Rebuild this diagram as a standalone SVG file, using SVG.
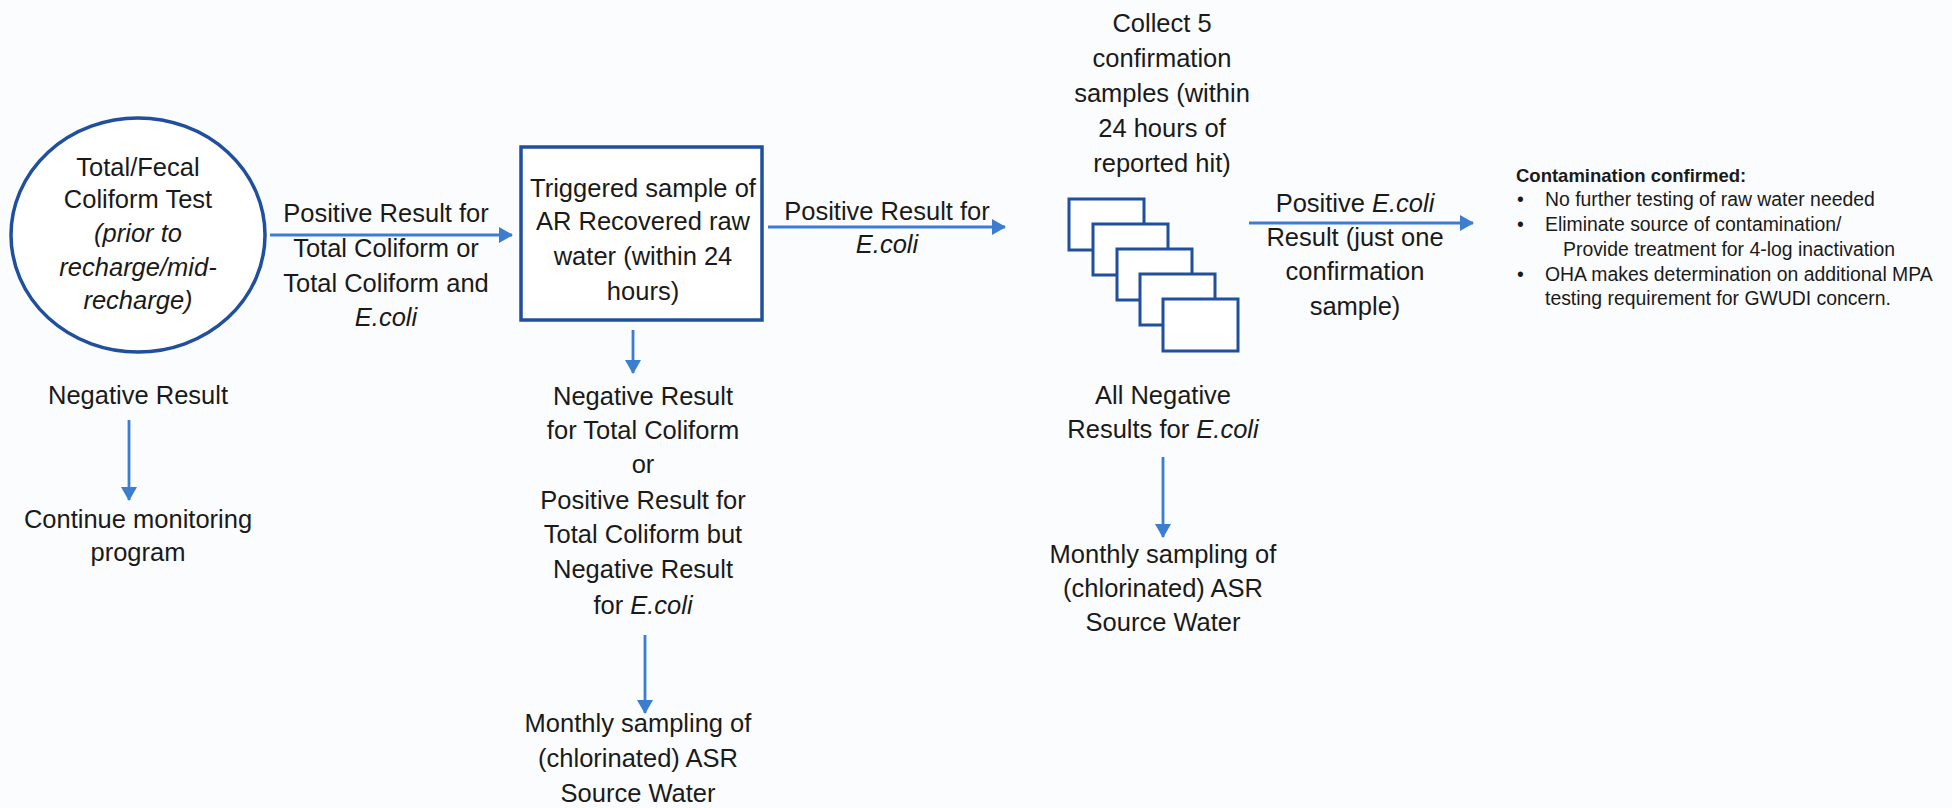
<svg xmlns="http://www.w3.org/2000/svg" width="1952" height="808" viewBox="0 0 1952 808">
<style>
.t{font-family:"Liberation Sans",Arial,sans-serif;font-size:25.5px;fill:#1a1a1a;text-anchor:middle}
.i{font-style:italic}
.s{font-family:"Liberation Sans",Arial,sans-serif;font-size:19.4px;fill:#1a1a1a}
.h{font-weight:bold;font-size:18.5px}
.shape{fill:#fff;stroke:#1f4f9e;stroke-width:3.5}
.stk{fill:#fff;stroke:#1f4f9e;stroke-width:3}
.arr{stroke:#3b7dd0;stroke-width:2.8;fill:none;marker-end:url(#ah)}
</style>
<defs>
<marker id="ah" markerUnits="userSpaceOnUse" markerWidth="14" markerHeight="16" refX="13" refY="8" orient="auto">
<path d="M0,0 L14,8 L0,16 z" fill="#3b7dd0"/>
</marker>
</defs>
<rect width="1952" height="808" fill="#fbfcfd"/>
<g id="connectors">
<line class="arr" x1="270" y1="235" x2="512" y2="235"/>
<line class="arr" x1="768" y1="227" x2="1005" y2="227"/>
<line class="arr" x1="1249" y1="223" x2="1473" y2="223"/>
<line class="arr" x1="129" y1="420" x2="129" y2="500"/>
<line class="arr" x1="633" y1="330" x2="633" y2="373"/>
<line class="arr" x1="645" y1="635" x2="645" y2="713"/>
<line class="arr" x1="1163" y1="457" x2="1163" y2="537"/>
</g>
<g id="start">
<ellipse class="shape" cx="138" cy="235" rx="127" ry="117"/>
<text class="t" x="138" y="176">Total/Fecal</text>
<text class="t" x="138" y="208">Coliform Test</text>
<text class="t i" x="138" y="242">(prior to</text>
<text class="t i" x="138" y="276">recharge/mid-</text>
<text class="t i" x="138" y="309">recharge)</text>
</g>
<g id="label1">
<text class="t" x="386" y="222">Positive Result for</text>
<text class="t" x="386" y="257">Total Coliform or</text>
<text class="t" x="386" y="292">Total Coliform and</text>
<text class="t i" x="386" y="326">E.coli</text>
</g>
<g id="neg1">
<text class="t" x="138" y="404">Negative Result</text>
</g>
<g id="continue">
<text class="t" x="138" y="528">Continue monitoring</text>
<text class="t" x="138" y="561">program</text>
</g>
<g id="triggered">
<rect class="shape" x="521" y="147" width="241" height="173"/>
<text class="t" x="643" y="197">Triggered sample of</text>
<text class="t" x="643" y="230">AR Recovered raw</text>
<text class="t" x="643" y="265">water (within 24</text>
<text class="t" x="643" y="300">hours)</text>
</g>
<g id="label2">
<text class="t" x="887" y="220">Positive Result for</text>
<text class="t i" x="887" y="253">E.coli</text>
</g>
<g id="neg2">
<text class="t" x="643" y="405">Negative Result</text>
<text class="t" x="643" y="439">for Total Coliform</text>
<text class="t" x="643" y="473">or</text>
<text class="t" x="643" y="509">Positive Result for</text>
<text class="t" x="643" y="543">Total Coliform but</text>
<text class="t" x="643" y="578">Negative Result</text>
<text class="t" x="643" y="614">for <tspan class="i">E.coli</tspan></text>
</g>
<g id="monthly1">
<text class="t" x="638" y="732">Monthly sampling of</text>
<text class="t" x="638" y="767">(chlorinated) ASR</text>
<text class="t" x="638" y="802">Source Water</text>
</g>
<g id="collect">
<text class="t" x="1162" y="32">Collect 5</text>
<text class="t" x="1162" y="67">confirmation</text>
<text class="t" x="1162" y="102">samples (within</text>
<text class="t" x="1162" y="137">24 hours of</text>
<text class="t" x="1162" y="172">reported hit)</text>
</g>
<g id="samples">
<rect class="stk" x="1069" y="199" width="75" height="51"/>
<rect class="stk" x="1093" y="224" width="75" height="51"/>
<rect class="stk" x="1117" y="249" width="75" height="51"/>
<rect class="stk" x="1140" y="274" width="75" height="51"/>
<rect class="stk" x="1163" y="299" width="75" height="52"/>
</g>
<g id="label3">
<text class="t" x="1355" y="212">Positive <tspan class="i">E.coli</tspan></text>
<text class="t" x="1355" y="246">Result (just one</text>
<text class="t" x="1355" y="280">confirmation</text>
<text class="t" x="1355" y="315">sample)</text>
</g>
<g id="allneg">
<text class="t" x="1163" y="404">All Negative</text>
<text class="t" x="1163" y="438">Results for <tspan class="i">E.coli</tspan></text>
</g>
<g id="monthly2">
<text class="t" x="1163" y="563">Monthly sampling of</text>
<text class="t" x="1163" y="597">(chlorinated) ASR</text>
<text class="t" x="1163" y="631">Source Water</text>
</g>
<g id="confirmed">
<text class="s h" x="1516" y="182">Contamination confirmed:</text>
<text class="s" x="1517" y="206">•</text>
<text class="s" x="1545" y="206">No further testing of raw water needed</text>
<text class="s" x="1517" y="231">•</text>
<text class="s" x="1545" y="231">Eliminate source of contamination/</text>
<text class="s" x="1563" y="256">Provide treatment for 4-log inactivation</text>
<text class="s" x="1517" y="281">•</text>
<text class="s" x="1545" y="281">OHA makes determination on additional MPA</text>
<text class="s" x="1545" y="305">testing  requirement for GWUDI concern.</text>
</g>
</svg>
